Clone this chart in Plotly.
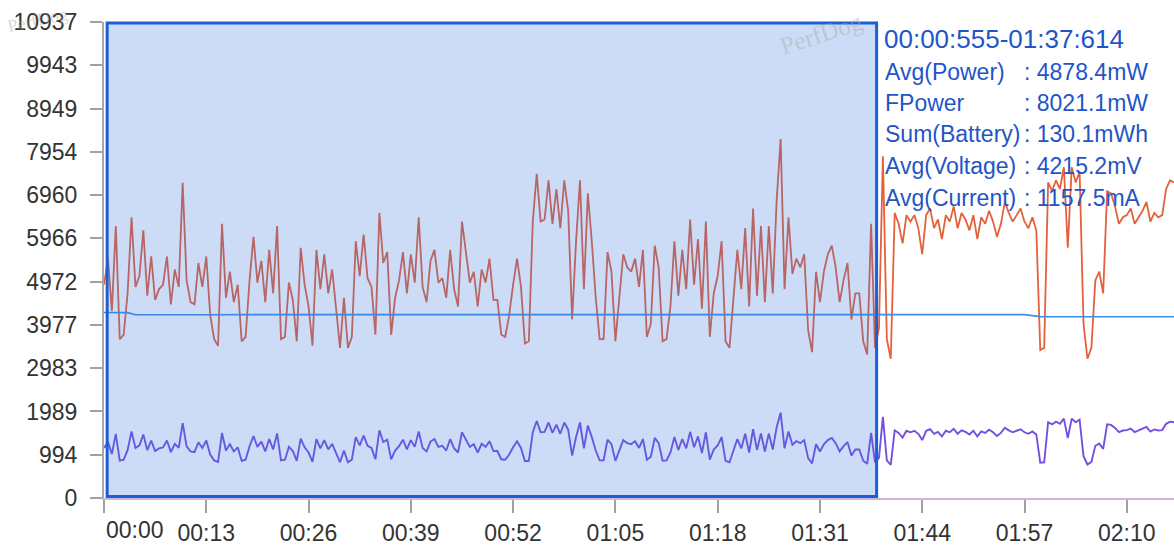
import plotly.graph_objects as go

# ---------------- data ----------------
# sample clock for power / current: every 0.5 s, 0 .. 136 s (rows = 13 s)
sample_step_s = 0.5
power_mw = [
    4900, 5500, 4300, 6250, 3650, 3750, 4700, 6450, 4850, 5100, 6150, 4650, 5550, 4550, 4800, 4900, 5550, 4450, 5250, 4850, 7240, 5000, 4500, 4450, 5400, 4850,
    5550, 4200, 3650, 3500, 6300, 4600, 5200, 4500, 4900, 3600, 3700, 5000, 6000, 4950, 5450, 4500, 5700, 4700, 6250, 3650, 3700, 4950, 4550, 3600, 5750, 4900,
    4400, 3500, 5700, 4800, 5600, 4700, 5250, 4400, 3450, 4600, 3450, 3700, 5900, 5100, 6050, 5050, 4850, 3750, 6550, 5400, 5650, 3750, 4600, 5000, 5650, 4700,
    5600, 4950, 6450, 4850, 4500, 5450, 5700, 4950, 5050, 4600, 5700, 4800, 4400, 6350, 5700, 4950, 5200, 4400, 5250, 4950, 5500, 4550, 4550, 3750, 3700, 4200,
    4900, 5500, 4850, 3550, 3600, 6350, 7450, 6350, 6400, 7300, 6300, 7100, 6200, 7300, 6600, 4100, 5900, 7300, 4800, 7000, 5900, 4600, 3650, 3650, 5650, 5200,
    3600, 4700, 5600, 5300, 5200, 5500, 4850, 5700, 3700, 4000, 5800, 5300, 3600, 3650, 4400, 5900, 4650, 5700, 4800, 6400, 4900, 5950, 4350, 6350, 3700, 4700,
    5100, 5900, 3600, 3450, 4650, 5700, 4800, 6200, 4400, 6650, 4650, 6250, 4500, 6250, 4700, 6850, 8250, 4800, 6450, 5150, 5500, 5300, 5600, 3850, 3350, 5200,
    4500, 5200, 5600, 5800, 5300, 4500, 5000, 5400, 4100, 4700, 4700, 3600, 3300, 6300, 3450, 3900, 7850, 3650, 3200, 6550, 6300, 5850, 6500, 6350, 6500, 6200,
    5600, 6500, 6650, 6200, 6400, 5950, 6500, 6350, 6700, 6200, 6550, 6400, 6150, 6500, 5950, 6450, 6300, 6600, 6350, 6000, 6300, 6800, 6550, 6350, 6500, 6650,
    6350, 6200, 6450, 6150, 3400, 3450, 7250, 7050, 7300, 7100, 7600, 5750, 7600, 7250, 7500, 4000, 3200, 3450, 5000, 5200, 4700, 7050, 7000, 6700, 6300, 6450,
    6500, 6650, 6300, 6450, 6600, 6800, 6350, 6550, 6450, 6500, 7100, 7300, 7250,
]
current_ma = [
    1150, 1290, 1010, 1470, 860, 880, 1100, 1530, 1150, 1210, 1460, 1100, 1320, 1080, 1140, 1160, 1320, 1055, 1245, 1150, 1720, 1185, 1070, 1055, 1280, 1150,
    1320, 1000, 865, 830, 1495, 1090, 1235, 1070, 1165, 855, 880, 1190, 1425, 1175, 1295, 1070, 1355, 1115, 1485, 865, 880, 1175, 1080, 855, 1365, 1165,
    1045, 830, 1355, 1140, 1330, 1115, 1245, 1045, 820, 1090, 820, 880, 1400, 1210, 1435, 1200, 1150, 890, 1555, 1285, 1340, 890, 1090, 1190, 1340, 1115,
    1330, 1175, 1530, 1150, 1070, 1295, 1355, 1175, 1200, 1090, 1355, 1140, 1045, 1510, 1355, 1175, 1235, 1045, 1245, 1175, 1305, 1080, 1080, 890, 880, 1000,
    1165, 1305, 1150, 845, 855, 1510, 1770, 1510, 1520, 1735, 1495, 1685, 1475, 1735, 1570, 975, 1400, 1735, 1140, 1665, 1400, 1090, 865, 865, 1340, 1235,
    855, 1115, 1330, 1260, 1235, 1305, 1150, 1355, 880, 950, 1380, 1260, 855, 865, 1045, 1400, 1105, 1355, 1140, 1520, 1165, 1415, 1035, 1510, 880, 1115,
    1210, 1400, 855, 820, 1105, 1355, 1140, 1475, 1045, 1580, 1105, 1485, 1070, 1485, 1115, 1625, 1960, 1140, 1530, 1225, 1305, 1260, 1330, 915, 795, 1235,
    1070, 1235, 1330, 1380, 1260, 1070, 1190, 1285, 975, 1115, 1115, 855, 785, 1495, 820, 925, 1865, 865, 760, 1555, 1495, 1390, 1545, 1510, 1545, 1475,
    1330, 1545, 1580, 1475, 1520, 1415, 1545, 1510, 1590, 1475, 1555, 1520, 1460, 1545, 1415, 1530, 1495, 1570, 1510, 1425, 1495, 1615, 1555, 1510, 1545, 1580,
    1510, 1475, 1530, 1460, 810, 820, 1740, 1690, 1755, 1705, 1825, 1380, 1825, 1740, 1800, 960, 770, 830, 1200, 1250, 1130, 1695, 1680, 1610, 1515, 1550,
    1560, 1595, 1515, 1550, 1585, 1635, 1525, 1575, 1550, 1560, 1705, 1755, 1740,
]
# voltage sampled every 1 s, 0 .. 136 s
voltage_mv = [
    4262, 4263, 4261, 4259, 4209, 4207, 4206, 4206, 4207, 4208, 4208, 4209, 4210, 4212,
    4213, 4213, 4214, 4214, 4213, 4214, 4215, 4214, 4213, 4214, 4214, 4215, 4214, 4213,
    4214, 4214, 4213, 4214, 4215, 4214, 4214, 4213, 4214, 4214, 4215, 4214, 4213, 4214,
    4214, 4213, 4214, 4215, 4214, 4214, 4213, 4214, 4214, 4215, 4214, 4213, 4214, 4214,
    4213, 4214, 4215, 4214, 4214, 4213, 4214, 4214, 4215, 4214, 4213, 4214, 4214, 4213,
    4214, 4215, 4214, 4214, 4213, 4214, 4214, 4215, 4214, 4213, 4214, 4214, 4213, 4214,
    4215, 4214, 4214, 4213, 4214, 4214, 4215, 4214, 4213, 4214, 4214, 4213, 4213, 4214,
    4214, 4213, 4214, 4214, 4213, 4214, 4213, 4213, 4214, 4214, 4213, 4213, 4214, 4213,
    4213, 4214, 4213, 4213, 4214, 4213, 4190, 4167, 4166, 4166, 4165, 4166, 4166, 4165,
    4166, 4165, 4166, 4166, 4165, 4165, 4166, 4165, 4165, 4166, 4165,
]
power_t = [i * sample_step_s for i in range(len(power_mw))]
current_t = [i * sample_step_s for i in range(len(current_ma))]
voltage_t = [float(i) for i in range(len(voltage_mv))]

y_tick_values = [0, 994.3, 1988.5, 2982.8, 3977.1, 4971.4, 5965.6, 6959.9, 7954.2, 8948.5, 9942.7, 10937]
y_tick_labels = ["0", "994", "1989", "2983", "3977", "4972", "5966", "6960", "7954", "8949", "9943", "10937"]
x_tick_values = [0, 13, 26, 39, 52, 65, 78, 91, 104, 117, 130]
x_tick_labels = ["00:00", "00:13", "00:26", "00:39", "00:52", "01:05", "01:18", "01:31", "01:44", "01:57", "02:10"]

selection_start_s = 0.4
selection_end_s = 98.2
selection_title = "00:00:555-01:37:614"
info_labels = ["Avg(Power)", "FPower", "Sum(Battery)", "Avg(Voltage)", "Avg(Current)"]
info_values = [": 4878.4mW", ": 8021.1mW", ": 130.1mWh", ": 4215.2mV", ": 1157.5mA"]

# ---------------- figure ----------------
FONT = "Liberation Sans, Arial, Helvetica, sans-serif"
INFO_BLUE = "#1f55c8"

fig = go.Figure()
fig.add_trace(go.Scatter(x=power_t, y=power_mw, mode="lines", name="Power",
                         line=dict(color="#e5603c", width=1.8)))
fig.add_trace(go.Scatter(x=voltage_t, y=voltage_mv, mode="lines", name="Voltage",
                         line=dict(color="#3d8ee6", width=1.6)))
fig.add_trace(go.Scatter(x=current_t, y=current_ma, mode="lines", name="Current",
                         line=dict(color="#7550e0", width=1.9)))

fig.add_shape(type="rect", xref="x", yref="paper",
              x0=selection_start_s, x1=selection_end_s, y0=0.003, y1=0.998,
              fillcolor="rgba(51,115,223,0.25)",
              line=dict(color="#1a5fd6", width=3), layer="above")

annotations = []
# first x label is drawn left-aligned at the axis origin
annotations.append(dict(xref="x", yref="paper", x=0, y=-0.067, text=x_tick_labels[0],
                        showarrow=False, xanchor="left", yanchor="middle",
                        font=dict(family=FONT, size=23, color="#333333")))
# info block
annotations.append(dict(xref="paper", yref="paper", x=0.7275, y=0.9643, text=selection_title,
                        showarrow=False, xanchor="left", yanchor="middle",
                        font=dict(family=FONT, size=26, color=INFO_BLUE)))
line_y = [0.8950, 0.8298, 0.7647, 0.6975, 0.6303]
for lab, val, yy in zip(info_labels, info_values, line_y):
    annotations.append(dict(xref="paper", yref="paper", x=0.7285, y=yy, text=lab,
                            showarrow=False, xanchor="left", yanchor="middle",
                            font=dict(family=FONT, size=23, color=INFO_BLUE)))
    annotations.append(dict(xref="paper", yref="paper", x=0.858, y=yy, text=val,
                            showarrow=False, xanchor="left", yanchor="middle",
                            font=dict(family=FONT, size=23, color=INFO_BLUE)))
# faint watermarks
for wx, wy, ws, wa in [(-0.062, 1.005, 18, -12), (0.671, 0.975, 25, -18)]:
    annotations.append(dict(xref="paper", yref="paper", x=wx, y=wy, text="PerfDog",
                            showarrow=False, textangle=wa, xanchor="center", yanchor="middle",
                            font=dict(family="Liberation Serif, serif", size=ws,
                                      color="rgba(170,170,170,0.45)")))

fig.update_layout(
    width=1174, height=558,
    margin=dict(l=104, r=0, t=22, b=60, autoexpand=False),
    paper_bgcolor="white", plot_bgcolor="white",
    showlegend=False,
    annotations=annotations,
    xaxis=dict(range=[0, 136], tickmode="array", tickvals=x_tick_values,
               ticktext=[""] + x_tick_labels[1:],
               showgrid=False, zeroline=False, showline=True,
               linecolor="#cfb6d9", linewidth=2,
               ticks="outside", ticklen=13, tickwidth=2, tickcolor="#a0a0a0",
               ticklabelstandoff=0,
               tickfont=dict(family=FONT, size=23, color="#333333")),
    yaxis=dict(range=[0, 10937], tickmode="array", tickvals=y_tick_values,
               ticktext=y_tick_labels,
               showgrid=False, zeroline=False, showline=True,
               linecolor="#a8a8a8", linewidth=2,
               ticks="outside", ticklen=12, tickwidth=2, tickcolor="#a0a0a0",
               ticklabelstandoff=8,
               tickfont=dict(family=FONT, size=23, color="#333333")),
)

fig.write_html("out.html", config={"displayModeBar": False},
               post_script="document.body.style.margin='0';document.body.style.overflow='hidden';")
